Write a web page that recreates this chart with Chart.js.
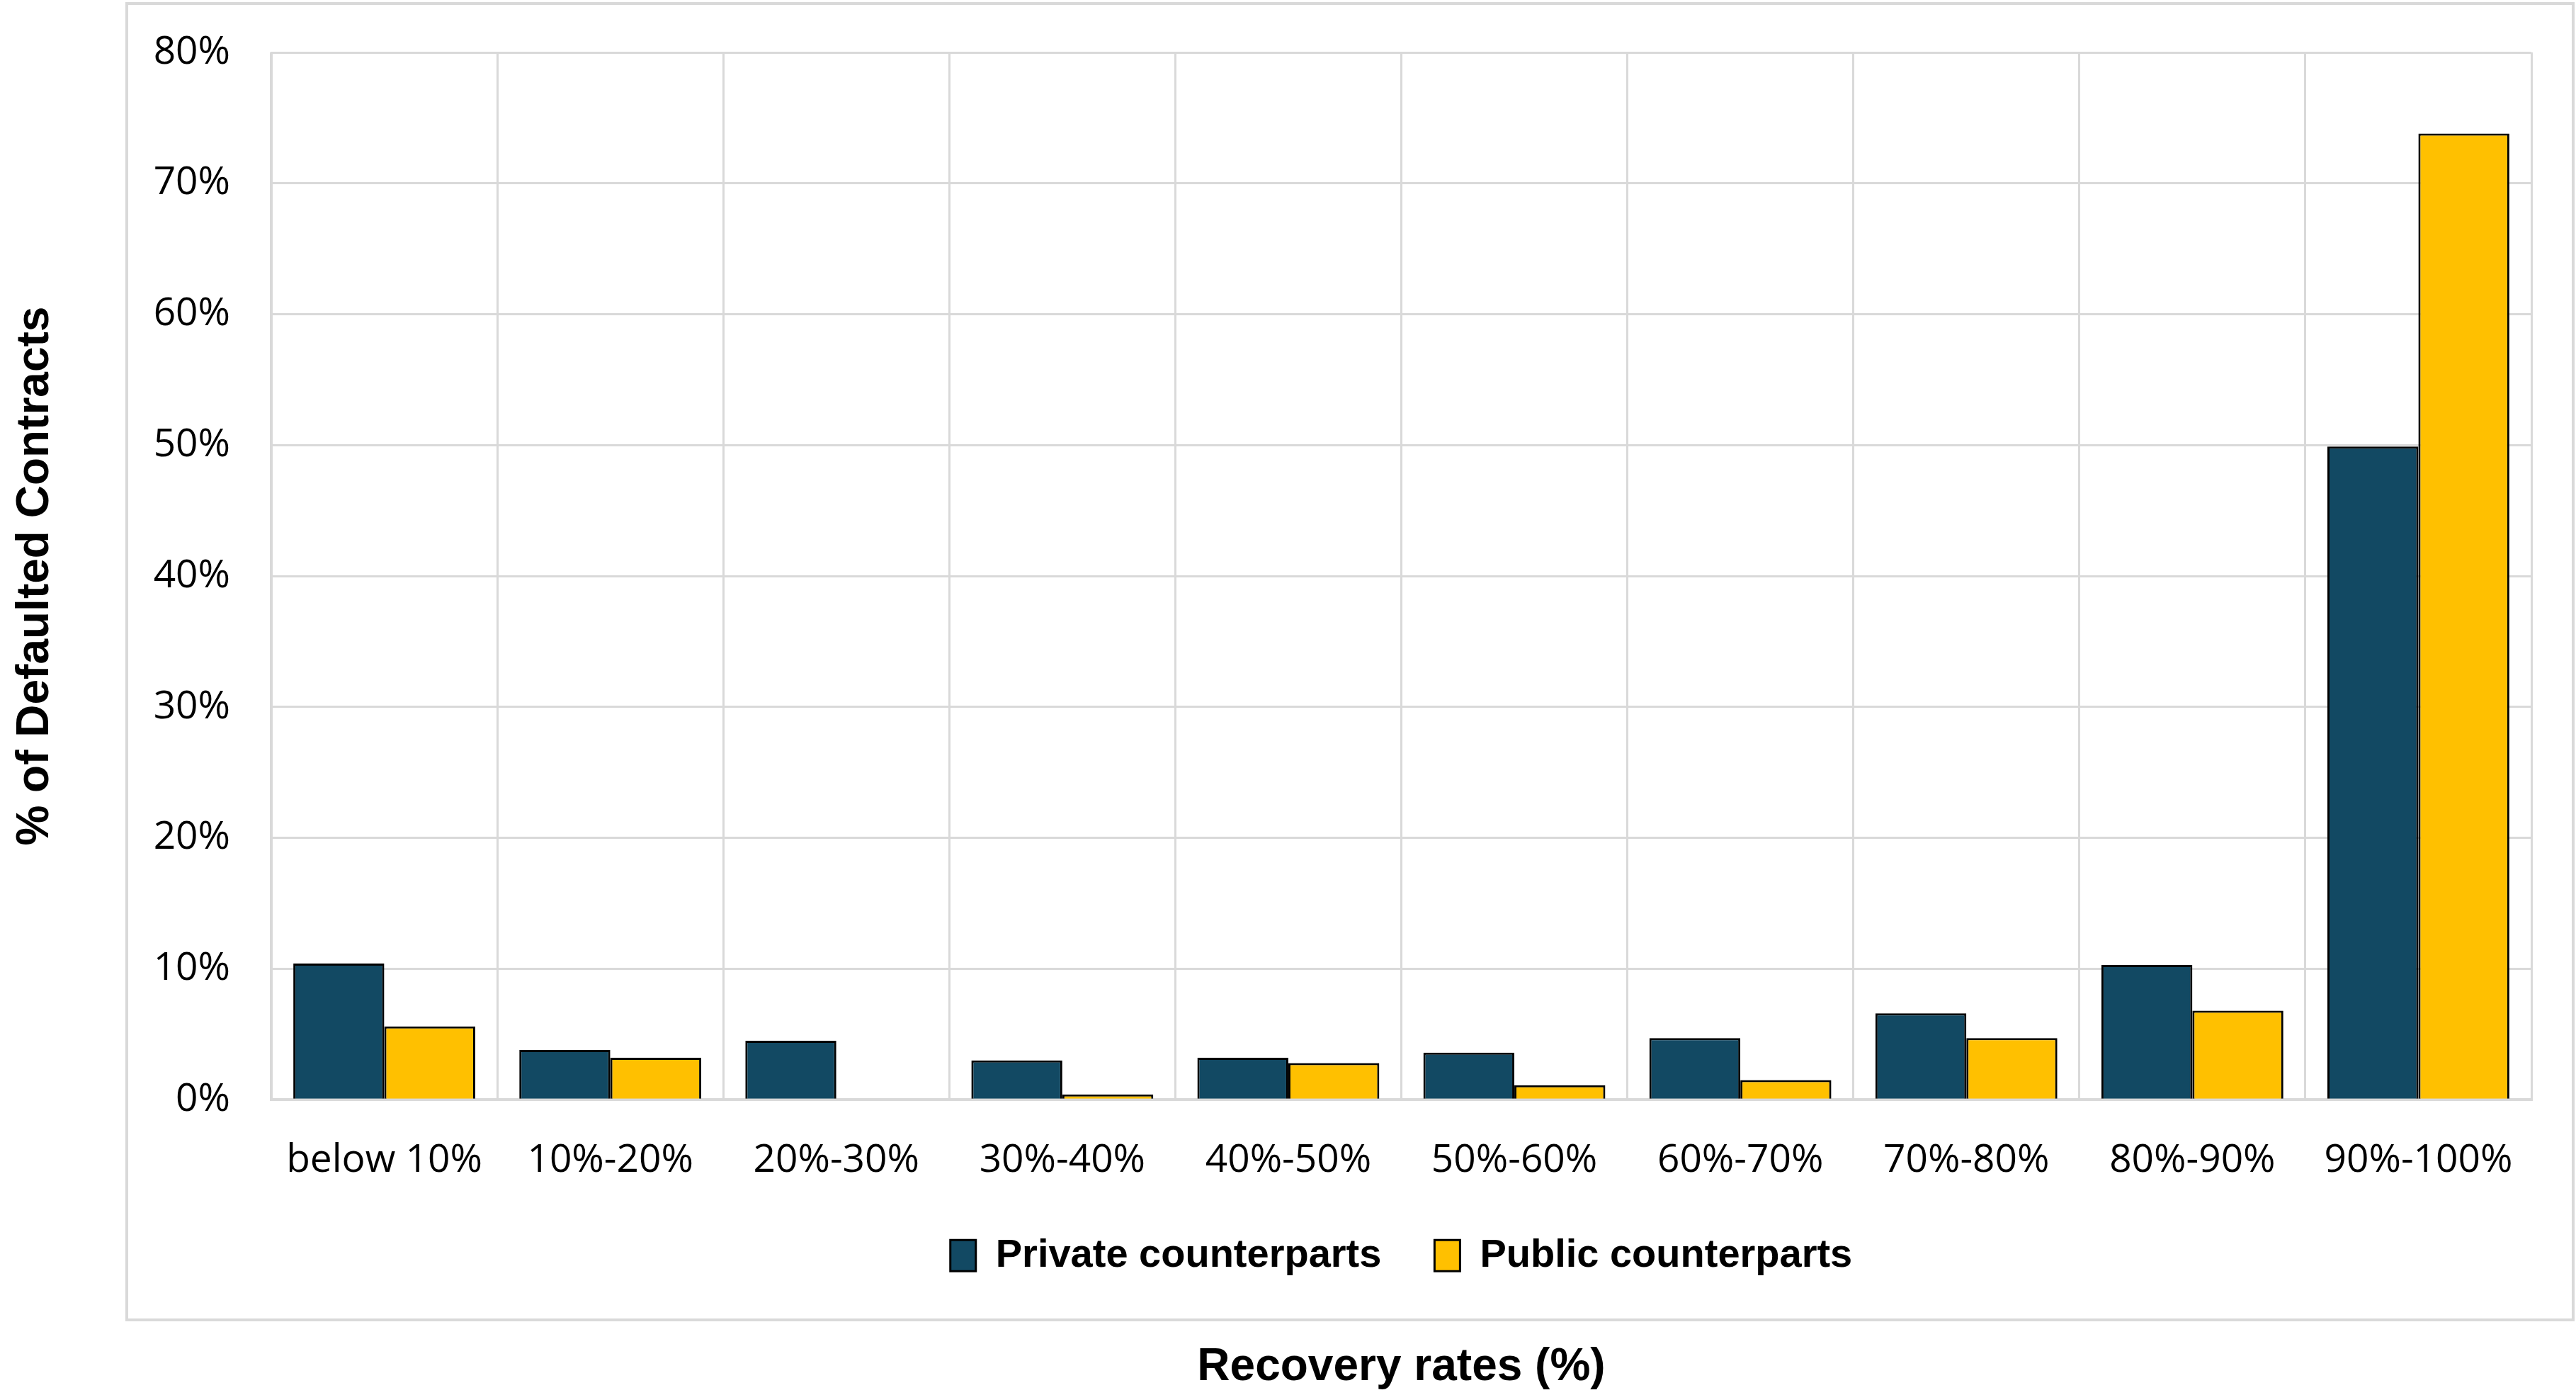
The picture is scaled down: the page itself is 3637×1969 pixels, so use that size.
<!DOCTYPE html>
<html>
<head>
<meta charset="utf-8">
<title>Recovery rates of defaulted contracts</title>
<script src="https://cdn.jsdelivr.net/npm/chart.js@4.4.1/dist/chart.umd.min.js"></script>
<style>
  html, body { margin: 0; padding: 0; background: #fff; }
  canvas { display: block; }
</style>
</head>
<body>
<canvas id="recoveryChart" width="3637" height="1969"></canvas>
<script>
// Recovery-rate bands (x axis)
const bands = ['below 10%', '10%-20%', '20%-30%', '30%-40%', '40%-50%',
               '50%-60%', '60%-70%', '70%-80%', '80%-90%', '90%-100%'];

// Share of defaulted contracts in each band, in %
const privateShares = [10.4, 3.8, 4.5, 3.0, 3.2, 3.6, 4.7, 6.6, 10.3, 49.9];
const publicShares  = [5.6, 3.2, 0, 0.4, 2.8, 1.1, 1.5, 4.7, 6.8, 73.8];

const seriesNames = ['Private counterparts', 'Public counterparts'];

// y axis: 0% .. 80% in steps of 10
const yMin = 0;
const yMax = 80;
const yStep = 10;

const gridGray = '#d9d9d9';
const tickFont = { family: "'Open Sans', 'Noto Sans', sans-serif", size: 55 };
const legendFont = { family: "'Liberation Sans', Arial, sans-serif", size: 56, weight: 'bold' };
const axisTitleFont = { family: "'Liberation Sans', Arial, sans-serif", size: 64, weight: 'bold' };

// light grey frame around the plot and legend
const chartFrame = {
  id: 'chartFrame',
  beforeDraw(chart) {
    const ctx = chart.ctx;
    ctx.save();
    ctx.fillStyle = '#ffffff';
    ctx.fillRect(0, 0, chart.width, chart.height);
    ctx.strokeStyle = gridGray;
    ctx.lineWidth = 4;
    ctx.strokeRect(179, 5, 3454, 1858);
    ctx.restore();
  }
};

const ctx = document.getElementById('recoveryChart').getContext('2d');

const recoveryChart = new Chart(ctx, {
  type: 'bar',
  data: {
    labels: bands,
    datasets: [{
      label: seriesNames[0],
      data: privateShares,
      backgroundColor: '#124963',
      borderColor: '#000000',
      borderWidth: 3
    }, {
      label: seriesNames[1],
      data: publicShares,
      backgroundColor: '#ffc000',
      borderColor: '#000000',
      borderWidth: 3
    }]
  },
  options: {
    responsive: false,
    animation: false,
    devicePixelRatio: 1,
    layout: {
      padding: { left: 0, right: 63, top: 74, bottom: 0 }
    },
    datasets: {
      bar: {
        categoryPercentage: 0.805,
        barPercentage: 1.0
      }
    },
    scales: {
      x: {
        grid: { color: gridGray, lineWidth: 3, offset: true, drawTicks: false },
        border: { color: gridGray, width: 4 },
        ticks: { color: '#000', font: tickFont, padding: 53, maxRotation: 0 },
        afterFit(scale) { scale.height = 117; }
      },
      y: {
        min: yMin,
        max: yMax,
        grid: { color: gridGray, lineWidth: 3, drawTicks: false },
        border: { color: gridGray, width: 3 },
        ticks: {
          stepSize: yStep,
          color: '#000',
          font: tickFont,
          padding: 58,
          callback: value => value + '%'
        },
        title: {
          display: true,
          text: '% of Defaulted Contracts',
          color: '#000',
          font: axisTitleFont,
          padding: { top: 12, bottom: 0 }
        },
        afterFit(scale) {
          scale.width = 383;
          // let the layout padding alone decide the top/bottom of the plot
          scale.paddingTop = 0;
          scale.paddingBottom = 0;
        }
      }
    },
    plugins: {
      legend: {
        position: 'bottom',
        fullSize: false,
        labels: {
          color: '#000',
          font: legendFont,
          boxWidth: 36,
          boxHeight: 44,
          padding: 75
        }
      },
      title: {
        display: true,
        position: 'bottom',
        fullSize: false,
        text: 'Recovery rates (%)',
        color: '#000',
        font: axisTitleFont,
        padding: { top: 82, bottom: 0 }
      },
      tooltip: { enabled: false }
    }
  },
  plugins: [chartFrame]
});
</script>
</body>
</html>
